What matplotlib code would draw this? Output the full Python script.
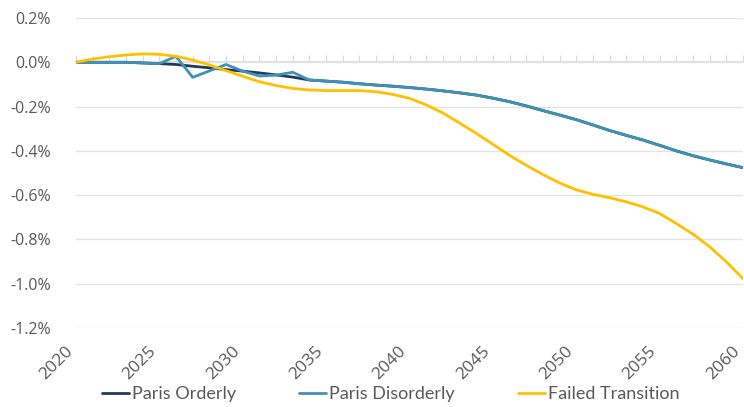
import numpy as np
import matplotlib.pyplot as plt
from matplotlib.ticker import FuncFormatter, MultipleLocator

years = list(range(2020, 2061))

paris_orderly = [0.0, 0.0, 0.0, 0.0, -0.003, -0.006, -0.010, -0.018, -0.025, -0.033,
                 -0.040, -0.048, -0.057, -0.067, -0.080, -0.085, -0.090, -0.097, -0.103, -0.108,
                 -0.114, -0.121, -0.129, -0.138, -0.148, -0.162, -0.178, -0.197, -0.218, -0.238,
                 -0.259, -0.283, -0.308, -0.330, -0.351, -0.375, -0.400, -0.422, -0.441, -0.459,
                 -0.476]
paris_disorderly = [0.0, 0.0, 0.0, 0.0, -0.003, -0.006, 0.027, -0.068, -0.039, -0.010,
                    -0.040, -0.062, -0.058, -0.045, -0.080, -0.085, -0.090, -0.097, -0.103, -0.108,
                    -0.114, -0.121, -0.129, -0.138, -0.148, -0.162, -0.178, -0.197, -0.218, -0.238,
                    -0.259, -0.283, -0.308, -0.330, -0.351, -0.375, -0.400, -0.422, -0.441, -0.459,
                    -0.476]
failed_transition = [0.0, 0.015, 0.025, 0.033, 0.038, 0.036, 0.027, 0.010, -0.012, -0.038,
                     -0.063, -0.088, -0.105, -0.118, -0.125, -0.128, -0.128, -0.128, -0.133, -0.145,
                     -0.163, -0.192, -0.229, -0.274, -0.321, -0.370, -0.420, -0.465, -0.507, -0.545,
                     -0.576, -0.596, -0.612, -0.630, -0.653, -0.683, -0.728, -0.776, -0.833, -0.901,
                     -0.977]

series_names = ["Paris Orderly", "Paris Disorderly", "Failed Transition"]
colors = ["#1f3a5c", "#3f92b7", "#ffc000"]
label_years = [2020, 2025, 2030, 2035, 2040, 2045, 2050, 2055, 2060]

grey = "#595959"
grid_col = "#e3e3e3"

fig = plt.figure(figsize=(7.44, 4.07), dpi=100)
ax = fig.add_axes([76/744, 1-328/407, 667/744, 310/407])

for vals, name, col in zip([paris_orderly, paris_disorderly, failed_transition], series_names, colors):
    ax.plot(years, vals, color=col, linewidth=2.0, label=name, solid_capstyle='round')

ax.set_xlim(2020, 2060)
ax.set_ylim(-1.2, 0.2)
ax.yaxis.set_major_locator(MultipleLocator(0.2))
ax.yaxis.set_major_formatter(FuncFormatter(lambda v, p: f"{v:.1f}%"))
ax.grid(axis='y', color=grid_col, linewidth=1.0)
ax.set_axisbelow(True)
for s in ax.spines.values():
    s.set_visible(False)

ax.set_xticks(label_years)
ax.set_xticklabels([str(y) for y in label_years], rotation=45, ha='right',
                   fontfamily=['Open Sans', 'DejaVu Sans'], fontsize=12.5, color=grey)
ax.tick_params(axis='x', length=0, pad=11)
ax.tick_params(axis='y', length=0, pad=18, labelsize=11.5, labelcolor=grey)
for lab in ax.get_yticklabels():
    lab.set_fontfamily(['Open Sans', 'DejaVu Sans'])

# zero axis with yearly tick marks pointing up
zero_pos = (0 - (-1.2)) / 1.4
sec = ax.secondary_xaxis(zero_pos)
sec.set_xticks(years)
sec.tick_params(axis='x', direction='in', length=5, width=0.8, color="#d9d9d9",
                labelbottom=False, labeltop=False, top=False, bottom=True)
for s in sec.spines.values():
    s.set_visible(False)
sec.spines['bottom'].set_visible(True)
sec.spines['bottom'].set_color("#d9d9d9")
sec.spines['bottom'].set_linewidth(1.2)

leg = fig.legend(loc='center', bbox_to_anchor=(0.525, 0.032), ncol=3, frameon=False,
                 handlelength=1.5, handletextpad=0.15, columnspacing=3.5,
                 prop={'family': ['Lato', 'DejaVu Sans'], 'size': 13})
for t in leg.get_texts():
    t.set_color(grey)

fig.savefig("out.png", dpi=100)
